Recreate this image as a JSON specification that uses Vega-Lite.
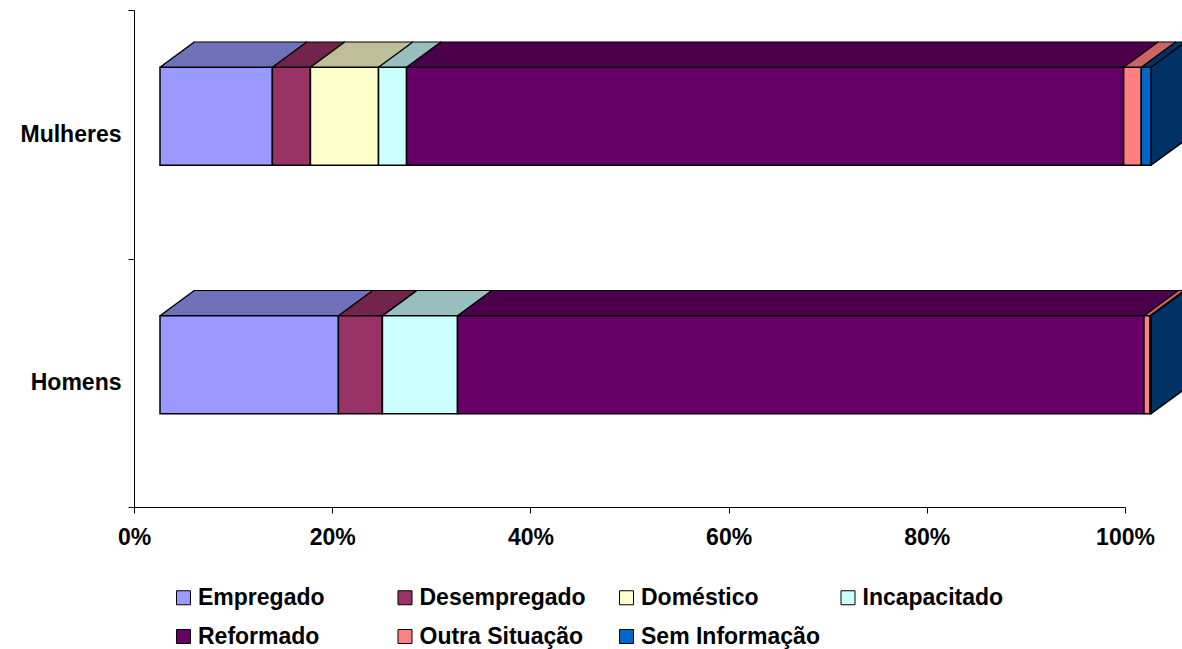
{
  "$schema": "https://vega.github.io/schema/vega-lite/v6.json",
  "width": 991,
  "height": 497,
  "autosize": {"type": "none"},
  "padding": {"left": 134, "top": 10, "right": 57, "bottom": 142},
  "background": "white",
  "config": {
    "view": {"stroke": null},
    "font": "Liberation Sans",
    "axis": {"labelFont": "Liberation Sans", "labelFontWeight": "bold", "labelFontSize": 23, "labelColor": "black", "domainColor": "black", "tickColor": "black", "domainWidth": 1, "tickWidth": 1, "grid": false, "title": null}
  },
  "data": {
    "values": [
      {"Sexo": "Mulheres", "Situação": "Empregado", "ordem": 1, "valor": 11.34},
      {"Sexo": "Mulheres", "Situação": "Desempregado", "ordem": 2, "valor": 3.84},
      {"Sexo": "Mulheres", "Situação": "Doméstico", "ordem": 3, "valor": 6.87},
      {"Sexo": "Mulheres", "Situação": "Incapacitado", "ordem": 4, "valor": 2.83},
      {"Sexo": "Mulheres", "Situação": "Reformado", "ordem": 5, "valor": 72.36},
      {"Sexo": "Mulheres", "Situação": "Outra Situação", "ordem": 6, "valor": 1.78},
      {"Sexo": "Mulheres", "Situação": "Sem Informação", "ordem": 7, "valor": 0.98},
      {"Sexo": "Homens", "Situação": "Empregado", "ordem": 1, "valor": 18.01},
      {"Sexo": "Homens", "Situação": "Desempregado", "ordem": 2, "valor": 4.44},
      {"Sexo": "Homens", "Situação": "Doméstico", "ordem": 3, "valor": 0},
      {"Sexo": "Homens", "Situação": "Incapacitado", "ordem": 4, "valor": 7.58},
      {"Sexo": "Homens", "Situação": "Reformado", "ordem": 5, "valor": 69.29},
      {"Sexo": "Homens", "Situação": "Outra Situação", "ordem": 6, "valor": 0.61},
      {"Sexo": "Homens", "Situação": "Sem Informação", "ordem": 7, "valor": 0.1}
    ]
  },
  "transform": [
    {"stack": "valor", "groupby": ["Sexo"], "sort": [{"field": "ordem", "order": "ascending"}], "offset": "normalize", "as": ["v0", "v1"]}
  ],
  "encoding": {
    "y": {
      "field": "Sexo", "type": "nominal", "sort": ["Mulheres", "Homens"],
      "scale": {"paddingInner": 0, "paddingOuter": 0},
      "axis": {"tickBand": "extent", "tickSize": 6, "labelPadding": 7, "domain": true, "ticks": true}
    },
    "x": {
      "field": "v0", "type": "quantitative",
      "scale": {"domain": [0, 1], "nice": false},
      "axis": {"values": [0, 0.2, 0.4, 0.6, 0.8, 1], "format": ".0%", "tickSize": 6, "labelPadding": 13, "labelFlush": false}
    },
    "x2": {"field": "v1"}
  },
  "layer": [
    {
      "encoding": {
        "fill": {
          "field": "Situação", "type": "nominal",
          "scale": {
            "domain": ["Desempregado", "Doméstico", "Empregado", "Incapacitado", "Outra Situação", "Reformado", "Sem Informação"],
            "range": ["#73264B", "#BFBF99", "#7073B9", "#99BFBF", "#CC6666", "#4C004C", "#003366"]
          },
          "legend": null
        }
      },
      "layer": [
        {"mark": {"type": "bar", "size": 98, "xOffset": 60, "x2Offset": 60, "yOffset": -43, "stroke": "black", "strokeWidth": 1.5}},
        {
          "encoding": {
            "stroke": {
              "field": "Situação", "type": "nominal",
              "scale": {
                "domain": ["Desempregado", "Doméstico", "Empregado", "Incapacitado", "Outra Situação", "Reformado", "Sem Informação"],
                "range": ["#73264B", "#BFBF99", "#7073B9", "#99BFBF", "#CC6666", "#4C004C", "#003366"]
              },
              "legend": null
            }
          },
          "layer": [
            {"mark": {"type": "bar", "size": 98, "strokeWidth": 1, "xOffset": 59, "x2Offset": 59, "yOffset": -42.26}},
            {"mark": {"type": "bar", "size": 98, "strokeWidth": 1, "xOffset": 58, "x2Offset": 58, "yOffset": -41.53}},
            {"mark": {"type": "bar", "size": 98, "strokeWidth": 1, "xOffset": 57, "x2Offset": 57, "yOffset": -40.79}},
            {"mark": {"type": "bar", "size": 98, "strokeWidth": 1, "xOffset": 56, "x2Offset": 56, "yOffset": -40.06}},
            {"mark": {"type": "bar", "size": 98, "strokeWidth": 1, "xOffset": 55, "x2Offset": 55, "yOffset": -39.32}},
            {"mark": {"type": "bar", "size": 98, "strokeWidth": 1, "xOffset": 54, "x2Offset": 54, "yOffset": -38.59}},
            {"mark": {"type": "bar", "size": 98, "strokeWidth": 1, "xOffset": 53, "x2Offset": 53, "yOffset": -37.85}},
            {"mark": {"type": "bar", "size": 98, "strokeWidth": 1, "xOffset": 52, "x2Offset": 52, "yOffset": -37.12}},
            {"mark": {"type": "bar", "size": 98, "strokeWidth": 1, "xOffset": 51, "x2Offset": 51, "yOffset": -36.38}},
            {"mark": {"type": "bar", "size": 98, "strokeWidth": 1, "xOffset": 50, "x2Offset": 50, "yOffset": -35.65}},
            {"mark": {"type": "bar", "size": 98, "strokeWidth": 1, "xOffset": 49, "x2Offset": 49, "yOffset": -34.91}},
            {"mark": {"type": "bar", "size": 98, "strokeWidth": 1, "xOffset": 48, "x2Offset": 48, "yOffset": -34.18}},
            {"mark": {"type": "bar", "size": 98, "strokeWidth": 1, "xOffset": 47, "x2Offset": 47, "yOffset": -33.44}},
            {"mark": {"type": "bar", "size": 98, "strokeWidth": 1, "xOffset": 46, "x2Offset": 46, "yOffset": -32.71}},
            {"mark": {"type": "bar", "size": 98, "strokeWidth": 1, "xOffset": 45, "x2Offset": 45, "yOffset": -31.97}},
            {"mark": {"type": "bar", "size": 98, "strokeWidth": 1, "xOffset": 44, "x2Offset": 44, "yOffset": -31.24}},
            {"mark": {"type": "bar", "size": 98, "strokeWidth": 1, "xOffset": 43, "x2Offset": 43, "yOffset": -30.5}},
            {"mark": {"type": "bar", "size": 98, "strokeWidth": 1, "xOffset": 42, "x2Offset": 42, "yOffset": -29.76}},
            {"mark": {"type": "bar", "size": 98, "strokeWidth": 1, "xOffset": 41, "x2Offset": 41, "yOffset": -29.03}},
            {"mark": {"type": "bar", "size": 98, "strokeWidth": 1, "xOffset": 40, "x2Offset": 40, "yOffset": -28.29}},
            {"mark": {"type": "bar", "size": 98, "strokeWidth": 1, "xOffset": 39, "x2Offset": 39, "yOffset": -27.56}},
            {"mark": {"type": "bar", "size": 98, "strokeWidth": 1, "xOffset": 38, "x2Offset": 38, "yOffset": -26.82}},
            {"mark": {"type": "bar", "size": 98, "strokeWidth": 1, "xOffset": 37, "x2Offset": 37, "yOffset": -26.09}},
            {"mark": {"type": "bar", "size": 98, "strokeWidth": 1, "xOffset": 36, "x2Offset": 36, "yOffset": -25.35}},
            {"mark": {"type": "bar", "size": 98, "strokeWidth": 1, "xOffset": 35, "x2Offset": 35, "yOffset": -24.62}},
            {"mark": {"type": "bar", "size": 98, "strokeWidth": 1, "xOffset": 34, "x2Offset": 34, "yOffset": -23.88}},
            {"mark": {"type": "bar", "size": 98, "strokeWidth": 1, "xOffset": 33, "x2Offset": 33, "yOffset": -23.15}},
            {"mark": {"type": "bar", "size": 98, "strokeWidth": 1, "xOffset": 32, "x2Offset": 32, "yOffset": -22.41}},
            {"mark": {"type": "bar", "size": 98, "strokeWidth": 1, "xOffset": 31, "x2Offset": 31, "yOffset": -21.68}},
            {"mark": {"type": "bar", "size": 98, "strokeWidth": 1, "xOffset": 30, "x2Offset": 30, "yOffset": -20.94}},
            {"mark": {"type": "bar", "size": 98, "strokeWidth": 1, "xOffset": 29, "x2Offset": 29, "yOffset": -20.21}},
            {"mark": {"type": "bar", "size": 98, "strokeWidth": 1, "xOffset": 28, "x2Offset": 28, "yOffset": -19.47}},
            {"mark": {"type": "bar", "size": 98, "strokeWidth": 1, "xOffset": 27, "x2Offset": 27, "yOffset": -18.74}}
          ]
        }
      ]
    },
    {
      "mark": {"type": "bar", "size": 98, "xOffset": 26, "x2Offset": 26, "yOffset": -18, "stroke": "black", "strokeWidth": 1.5},
      "encoding": {
        "color": {
          "field": "Situação", "type": "nominal",
          "scale": {
            "domain": ["Empregado", "Desempregado", "Doméstico", "Incapacitado", "Reformado", "Outra Situação", "Sem Informação"],
            "range": ["#9999FF", "#993366", "#FFFFCC", "#CCFFFF", "#660066", "#FF8080", "#0066CC"]
          },
          "legend": {
            "orient": "none", "legendX": 38, "legendY": 576, "direction": "horizontal", "columns": 4,
            "symbolType": "square", "symbolSize": 196, "symbolStrokeColor": "black", "symbolStrokeWidth": 1,
            "labelFont": "Liberation Sans", "labelFontSize": 23, "labelFontWeight": "bold", "labelColor": "black",
            "labelOffset": 3, "rowPadding": 15, "columnPadding": 16.5, "gridAlign": "all", "title": null, "padding": 0, "labelLimit": 400
          }
        }
      }
    },
    {
      "mark": {"type": "rule", "xOffset": 26, "x2Offset": 60, "yOffset": -67, "y2Offset": -92, "color": "black", "strokeWidth": 1.5},
      "encoding": {
        "x": {"field": "v1", "type": "quantitative"},
        "x2": {"field": "v1"},
        "y": {"field": "Sexo", "type": "nominal", "sort": ["Mulheres", "Homens"], "bandPosition": 0.5},
        "y2": {"field": "Sexo", "bandPosition": 0.5}
      }
    },
    {
      "transform": [{"filter": "datum.ordem == 1"}],
      "mark": {"type": "rule", "xOffset": 26, "x2Offset": 60, "yOffset": -67, "y2Offset": -92, "color": "black", "strokeWidth": 1.5},
      "encoding": {
        "x": {"field": "v0", "type": "quantitative"},
        "x2": {"field": "v0"},
        "y": {"field": "Sexo", "type": "nominal", "sort": ["Mulheres", "Homens"], "bandPosition": 0.5},
        "y2": {"field": "Sexo", "bandPosition": 0.5}
      }
    },
    {
      "transform": [{"filter": "datum.ordem == 7"}],
      "mark": {"type": "rule", "xOffset": 26, "x2Offset": 60, "yOffset": 31, "y2Offset": 6, "color": "black", "strokeWidth": 1.5},
      "encoding": {
        "x": {"field": "v1", "type": "quantitative"},
        "x2": {"field": "v1"},
        "y": {"field": "Sexo", "type": "nominal", "sort": ["Mulheres", "Homens"], "bandPosition": 0.5},
        "y2": {"field": "Sexo", "bandPosition": 0.5}
      }
    }
  ]
}
